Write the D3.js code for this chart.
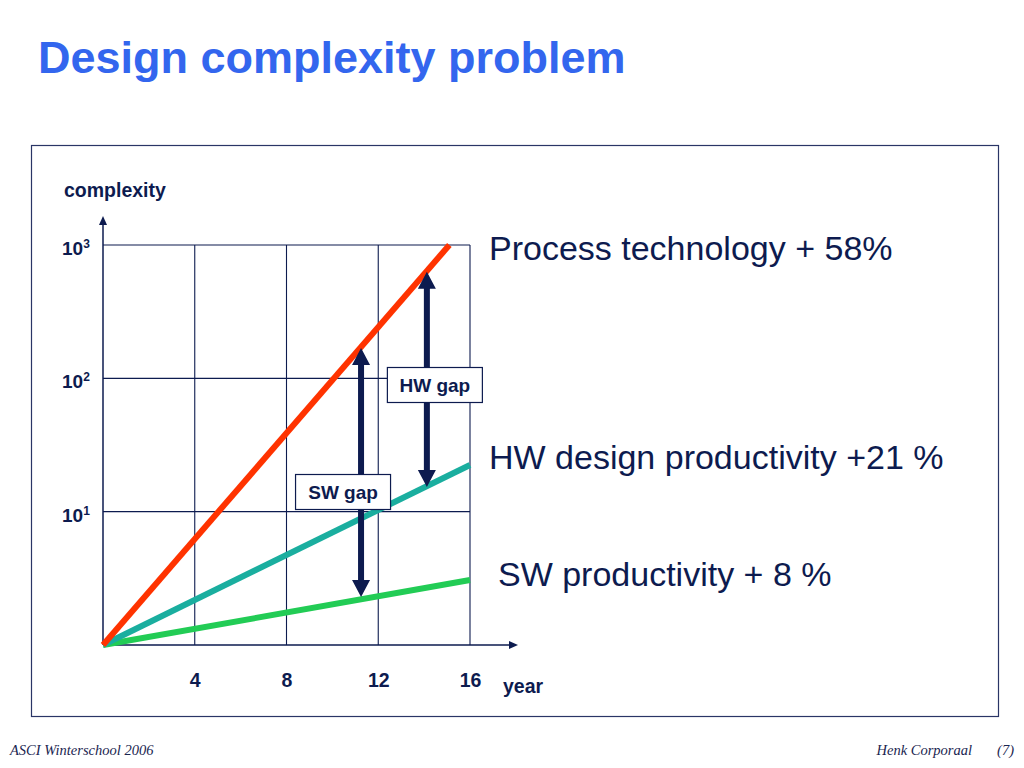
<!DOCTYPE html>
<html>
<head>
<meta charset="utf-8">
<script src="https://cdn.jsdelivr.net/npm/d3@7"></script>
<style>
  body { margin: 0; background: #fff; }
  svg { display: block; font-family: "Liberation Sans", Arial, sans-serif; }
</style>
</head>
<body>
<div id="chart"></div>
<script>
// values
var years = [4, 8, 12, 16];
var decades = [10, 100, 1000];
var decadeExp = ["1", "2", "3"];

var processTech = [[0, 1], [15.1, 1000]];
var hwProductivity = [[0, 1], [16, 22.4]];
var swProductivity = [[0, 1], [16, 3.07]];
var seriesNames = ["Process technology + 58%", "HW design productivity +21 %", "SW productivity + 8 %"];

var gapNames = ["SW gap", "HW gap"];
var gapYears = [11.25, 14.12];
var gapTop = [169, 630];
var gapBottom = [2.29, 15.3];

var navy = "#0d1b4f";

var svg = d3.select("#chart")
    .append("svg")
    .attr("width", 1024)
    .attr("height", 768);

// title
svg.append("text")
    .attr("x", 38)
    .attr("y", 73)
    .style("font-size", "45px")
    .style("font-weight", "bold")
    .style("fill", "#3366ee")
    .text("Design complexity problem");

// frame
svg.append("rect")
    .attr("x", 31.5).attr("y", 145.5)
    .attr("width", 967).attr("height", 571)
    .attr("fill", "none")
    .attr("stroke", "#2a3566")
    .attr("stroke-width", 1.2);

// scales
var x = d3.scaleLinear().domain([0, 16]).range([103, 470]);
var y = d3.scaleLog().domain([1, 1000]).range([645, 245]);

// grid
var grid = svg.append("g").attr("stroke", navy).attr("stroke-width", 1.1);
grid.selectAll("line.v")
    .data(years)
    .enter().append("line")
    .attr("x1", d => x(d)).attr("x2", d => x(d))
    .attr("y1", y(1)).attr("y2", y(1000));
grid.selectAll("line.h")
    .data(decades)
    .enter().append("line")
    .attr("x1", x(0)).attr("x2", x(16))
    .attr("y1", d => y(d)).attr("y2", d => y(d));

// axes with arrow heads
svg.append("line")
    .attr("x1", x(0)).attr("y1", y(1))
    .attr("x2", x(0)).attr("y2", 222)
    .attr("stroke", navy).attr("stroke-width", 1.5);
svg.append("path")
    .attr("d", "M" + x(0) + ",216 l-4,9 l8,0 z")
    .attr("fill", navy);
svg.append("line")
    .attr("x1", x(0)).attr("y1", y(1))
    .attr("x2", 512).attr("y2", y(1))
    .attr("stroke", navy).attr("stroke-width", 1.5);
svg.append("path")
    .attr("d", "M518," + y(1) + " l-9,-4 l0,8 z")
    .attr("fill", navy);

// x tick labels
var xAxis = svg.append("g")
    .attr("transform", "translate(0," + y(1) + ")")
    .call(d3.axisBottom(x).tickValues(years).tickSize(0).tickFormat(d3.format("d")));
xAxis.select(".domain").remove();
xAxis.selectAll("text")
    .attr("y", 42).attr("dy", 0)
    .style("font-size", "19.5px")
    .style("font-weight", "bold")
    .style("font-family", "Liberation Sans, Arial, sans-serif")
    .style("fill", navy);

// y tick labels 10^n
var yl = svg.selectAll("text.ylab")
    .data(decades)
    .enter().append("text")
    .attr("class", "ylab")
    .attr("x", 62)
    .attr("y", d => y(d) + 10)
    .style("font-size", "19px")
    .style("font-weight", "bold")
    .style("fill", navy);
yl.append("tspan").text("10");
yl.append("tspan")
    .attr("dy", -7)
    .style("font-size", "12px")
    .text((d, i) => decadeExp[i]);

svg.append("text")
    .attr("x", 64).attr("y", 197)
    .style("font-size", "19.5px").style("font-weight", "bold").style("fill", navy)
    .text("complexity");
svg.append("text")
    .attr("x", 503).attr("y", 693)
    .style("font-size", "19.5px").style("font-weight", "bold").style("fill", navy)
    .text("year");

// growth lines
var line = d3.line().x(d => x(d[0])).y(d => y(d[1]));
var series = [
    { data: swProductivity, color: "#22cc55" },
    { data: hwProductivity, color: "#1aae9f" },
    { data: processTech, color: "#ff3300" }
];
svg.selectAll("path.series")
    .data(series)
    .enter().append("path")
    .attr("class", "series")
    .attr("d", d => line(d.data))
    .attr("fill", "none")
    .attr("stroke", d => d.color)
    .attr("stroke-width", 6);

// series labels on the right
var labelPos = [[489, 260], [489, 469], [498, 586]];
svg.selectAll("text.slab")
    .data(seriesNames)
    .enter().append("text")
    .attr("x", (d, i) => labelPos[i][0])
    .attr("y", (d, i) => labelPos[i][1])
    .style("font-size", "34px")
    .style("fill", navy)
    .text(d => d);

// gap arrows (double headed)
function arrowPath(cx, top, bottom) {
    var hw = 9, hl = 17, sw = 3;
    return "M" + cx + "," + top +
        " L" + (cx + hw) + "," + (top + hl) +
        " L" + (cx + sw) + "," + (top + hl) +
        " L" + (cx + sw) + "," + (bottom - hl) +
        " L" + (cx + hw) + "," + (bottom - hl) +
        " L" + cx + "," + bottom +
        " L" + (cx - hw) + "," + (bottom - hl) +
        " L" + (cx - sw) + "," + (bottom - hl) +
        " L" + (cx - sw) + "," + (top + hl) +
        " L" + (cx - hw) + "," + (top + hl) + " Z";
}
var gaps = gapNames.map((n, i) => ({
    name: n, cx: x(gapYears[i]), top: y(gapTop[i]), bottom: y(gapBottom[i])
}));
svg.selectAll("path.gap")
    .data(gaps)
    .enter().append("path")
    .attr("class", "gap")
    .attr("d", d => arrowPath(d.cx, d.top, d.bottom))
    .attr("fill", navy);

// gap label boxes
var boxOff = [[-66, 474], [-40, 367]];
var boxes = svg.selectAll("g.gapbox")
    .data(gaps)
    .enter().append("g")
    .attr("class", "gapbox")
    .attr("transform", (d, i) => "translate(" + (d.cx + boxOff[i][0]) + "," + boxOff[i][1] + ")");
boxes.append("rect")
    .attr("x", 0.5).attr("y", 0.5)
    .attr("width", 95).attr("height", 35)
    .attr("fill", "#fff")
    .attr("stroke", navy)
    .attr("stroke-width", 1.2);
boxes.append("text")
    .attr("x", 48).attr("y", 25)
    .attr("text-anchor", "middle")
    .style("font-size", "19px")
    .style("font-weight", "bold")
    .style("fill", navy)
    .text(d => d.name);

// footer
var footer = [
    { x: 10, anchor: "start", text: "ASCI Winterschool 2006" },
    { x: 972, anchor: "end", text: "Henk Corporaal" },
    { x: 1014, anchor: "end", text: "(7)" }
];
svg.selectAll("text.foot")
    .data(footer)
    .enter().append("text")
    .attr("class", "foot")
    .attr("x", d => d.x).attr("y", 755)
    .attr("text-anchor", d => d.anchor)
    .style("font-family", "Liberation Serif, serif")
    .style("font-style", "italic")
    .style("font-size", "14.5px")
    .style("fill", "#1a2550")
    .text(d => d.text);
</script>
</body>
</html>
